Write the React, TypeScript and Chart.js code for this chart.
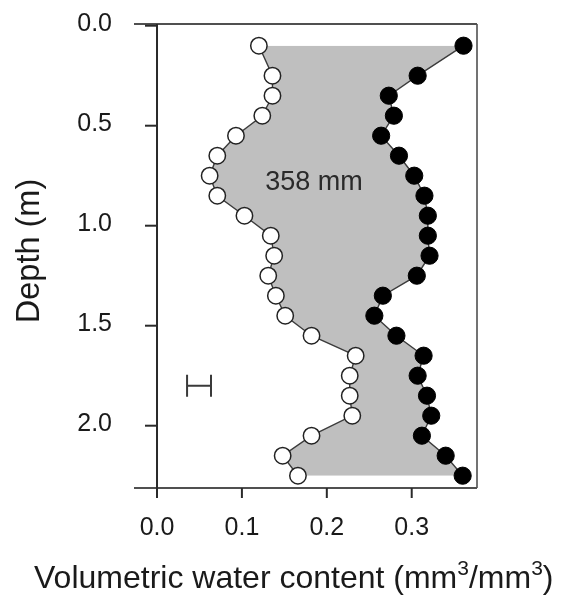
import React, { useEffect, useRef } from 'react';
import { Chart, registerables } from 'chart.js';

Chart.register(...registerables);

// ---- data ----
const DEPTHS = [0.1, 0.25, 0.35, 0.45, 0.55, 0.65, 0.75, 0.85, 0.95, 1.05, 1.15, 1.25, 1.35, 1.45, 1.55, 1.65, 1.75, 1.85, 1.95, 2.05, 2.15, 2.25];
const DRY = [0.120, 0.136, 0.136, 0.124, 0.093, 0.071, 0.062, 0.071, 0.103, 0.134, 0.138, 0.131, 0.140, 0.151, 0.182, 0.234, 0.227, 0.227, 0.230, 0.182, 0.148, 0.166];
const WET = [0.361, 0.307, 0.273, 0.279, 0.264, 0.285, 0.303, 0.315, 0.319, 0.319, 0.321, 0.306, 0.266, 0.256, 0.282, 0.314, 0.307, 0.318, 0.323, 0.312, 0.340, 0.360];
const X_TICKS = [0, 0.1, 0.2, 0.3];
const X_TICK_LABELS = ['0.0', '0.1', '0.2', '0.3'];
const Y_TICKS = [0, 0.5, 1.0, 1.5, 2.0];
const Y_TICK_LABELS = ['0.0', '0.5', '1.0', '1.5', '2.0'];
const AREA_LABEL = '358 mm';
const AREA_LABEL_AT = { x: 0.185, y: 0.784 };
const ERROR_BAR = { x: 0.0495, half: 0.0141, y: 1.80 };
const Y_TITLE = 'Depth (m)';
const X_TITLE_PARTS = ['Volumetric water content (mm', '3', '/mm', '3', ')'];

const X_MIN = -0.0271;
const X_MAX = 0.3769;
const Y_MIN = -0.0085;
const Y_MAX = 2.3115;

const FONT = '"Liberation Sans", Arial, Helvetica, sans-serif';
const INK = '#1a1a1a';
const LINE = '#3c3c3c';

const framePlugin = {
  id: 'frameAxes',
  afterDraw(chart: any) {
    const { ctx, chartArea } = chart;
    const xs = chart.scales.x;
    const ys = chart.scales.y;
    const { left, right, top, bottom } = chartArea;
    ctx.save();
    // frame lines
    ctx.strokeStyle = '#505050';
    ctx.lineWidth = 2;
    ctx.beginPath();
    ctx.moveTo(left, top);
    ctx.lineTo(right, top);
    ctx.moveTo(left, bottom);
    ctx.lineTo(right, bottom);
    ctx.stroke();
    ctx.lineWidth = 1.6;
    ctx.beginPath();
    ctx.moveTo(right, top);
    ctx.lineTo(right, bottom);
    ctx.stroke();
    // y axis line at x = 0
    const x0 = xs.getPixelForValue(0);
    ctx.strokeStyle = '#2a2a2a';
    ctx.lineWidth = 2;
    ctx.beginPath();
    ctx.moveTo(x0, top);
    ctx.lineTo(x0, bottom);
    ctx.stroke();
    // y ticks
    ctx.font = `25px ${FONT}`;
    ctx.fillStyle = INK;
    ctx.textAlign = 'right';
    ctx.textBaseline = 'alphabetic';
    Y_TICKS.forEach((v, i) => {
      const py = ys.getPixelForValue(v);
      ctx.beginPath();
      ctx.moveTo(x0 - 12, py);
      ctx.lineTo(x0, py);
      ctx.stroke();
      ctx.fillText(Y_TICK_LABELS[i], x0 - 45, py + 4.8);
    });
    // x ticks
    ctx.textAlign = 'center';
    X_TICKS.forEach((v, i) => {
      const px = xs.getPixelForValue(v);
      ctx.beginPath();
      ctx.moveTo(px, bottom);
      ctx.lineTo(px, bottom + 10);
      ctx.stroke();
      ctx.fillText(X_TICK_LABELS[i], px, 535);
    });
    // annotation
    ctx.font = `27px ${FONT}`;
    ctx.fillStyle = '#2a2a2a';
    ctx.textBaseline = 'middle';
    ctx.fillText(AREA_LABEL, xs.getPixelForValue(AREA_LABEL_AT.x), ys.getPixelForValue(AREA_LABEL_AT.y));
    // error bar
    const ex1 = xs.getPixelForValue(ERROR_BAR.x - ERROR_BAR.half);
    const ex2 = xs.getPixelForValue(ERROR_BAR.x + ERROR_BAR.half);
    const ey = ys.getPixelForValue(ERROR_BAR.y);
    ctx.strokeStyle = '#3a3a3a';
    ctx.lineWidth = 2;
    ctx.beginPath();
    ctx.moveTo(ex1, ey);
    ctx.lineTo(ex2, ey);
    ctx.moveTo(ex1, ey - 11);
    ctx.lineTo(ex1, ey + 11);
    ctx.moveTo(ex2, ey - 11);
    ctx.lineTo(ex2, ey + 11);
    ctx.stroke();
    // y title
    ctx.save();
    ctx.font = `32.5px ${FONT}`;
    ctx.fillStyle = INK;
    ctx.textAlign = 'center';
    ctx.textBaseline = 'alphabetic';
    ctx.translate(39, 251);
    ctx.rotate(-Math.PI / 2);
    ctx.fillText(Y_TITLE, 0, 0);
    ctx.restore();
    // x title with superscripts
    ctx.textAlign = 'left';
    ctx.textBaseline = 'alphabetic';
    ctx.fillStyle = INK;
    let cx = 34;
    const base = 588;
    X_TITLE_PARTS.forEach((part, i) => {
      const sup = i === 1 || i === 3;
      ctx.font = sup ? `21px ${FONT}` : `32px ${FONT}`;
      ctx.fillText(part, cx, sup ? base - 13 : base);
      cx += ctx.measureText(part).width;
    });
    ctx.restore();
  },
};

export default function App() {
  const ref = useRef<HTMLCanvasElement | null>(null);
  useEffect(() => {
    if (!ref.current) return;
    const chart = new Chart(ref.current, {
      type: 'line',
      data: {
        datasets: [
          {
            label: 'dry',
            data: DEPTHS.map((d, i) => ({ x: DRY[i], y: d })),
            borderColor: LINE,
            borderWidth: 1.4,
            pointRadius: 8.2,
            pointBackgroundColor: '#ffffff',
            pointBorderColor: '#222222',
            pointBorderWidth: 1.5,
            fill: false,
            tension: 0,
          },
          {
            label: 'wet',
            data: DEPTHS.map((d, i) => ({ x: WET[i], y: d })),
            borderColor: LINE,
            borderWidth: 1.4,
            pointRadius: 8.6,
            pointBackgroundColor: '#000000',
            pointBorderColor: '#000000',
            pointBorderWidth: 1,
            backgroundColor: '#bfbfbf',
            fill: '-1',
            tension: 0,
          },
        ],
      } as any,
      options: {
        indexAxis: 'y',
        responsive: false,
        animation: false,
        events: [],
        layout: { padding: { left: 134, top: 24, right: 86, bottom: 108 } },
        scales: {
          x: { type: 'linear', min: X_MIN, max: X_MAX, display: false },
          y: { type: 'linear', min: Y_MIN, max: Y_MAX, reverse: true, display: false },
        },
        plugins: {
          legend: { display: false },
          tooltip: { enabled: false },
          filler: { drawTime: 'beforeDatasetsDraw' },
        },
      } as any,
      plugins: [framePlugin],
    });
    return () => chart.destroy();
  }, []);
  return (
    <div style={{ position: 'absolute', left: 0, top: 0, width: 563, height: 596, background: '#fff' }}>
      <canvas ref={ref} width={563} height={596} style={{ width: 563, height: 596, display: 'block' }} />
    </div>
  );
}
